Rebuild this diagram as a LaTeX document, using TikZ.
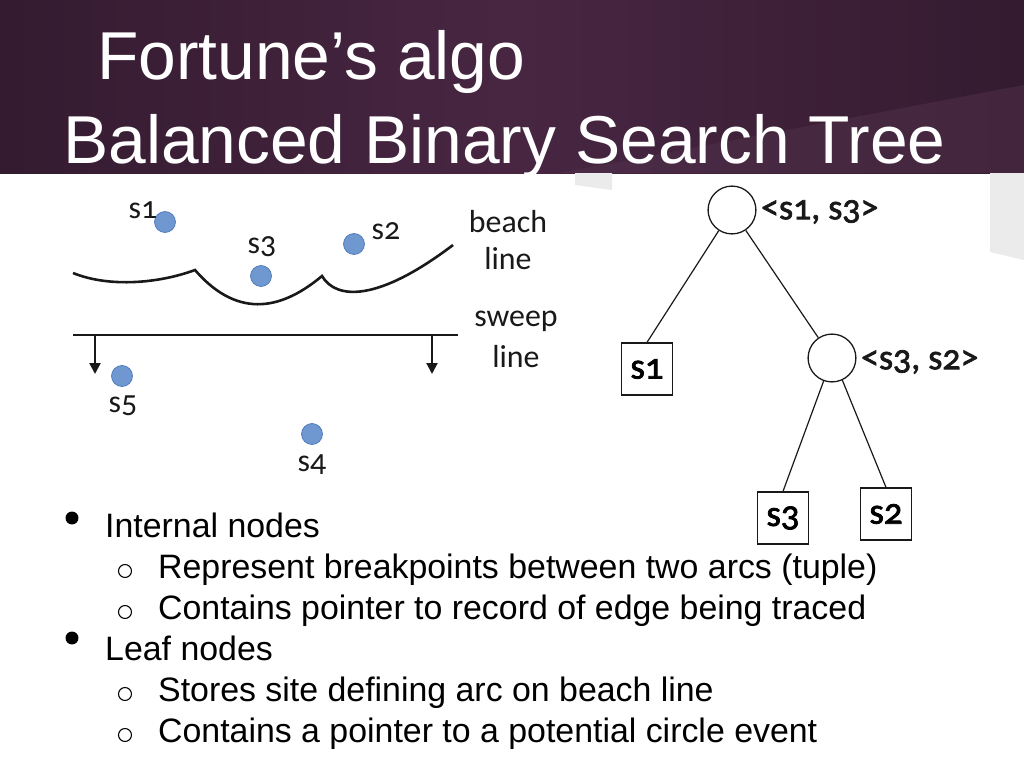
\documentclass[tikz,border=0pt]{standalone}
\usepackage{fontspec}
\setmainfont{Liberation Sans}
\newfontfamily\diafont{Carlito}[Numbers=OldStyle]
\newfontfamily\diabold{Carlito}[Numbers=OldStyle,FakeBold=2]
\usetikzlibrary{arrows.meta}
\definecolor{hdrdark}{RGB}{52,27,48}
\definecolor{hdrmid}{RGB}{72,38,66}
\definecolor{hdrlight}{RGB}{80,48,74}
\definecolor{sitefill}{RGB}{111,152,208}
\definecolor{siteedge}{RGB}{80,125,190}
\definecolor{wedge}{RGB}{235,235,235}
\definecolor{ink}{RGB}{25,25,25}
\tikzset{
  site/.style={circle,fill=sitefill,draw=siteedge,line width=0.8,minimum size=21,inner sep=0},
  sitelbl/.style={font=\diafont\fontsize{32}{32}\selectfont,text=ink,inner sep=0},
  inner/.style={circle,draw=ink,line width=1.3,minimum size=48,inner sep=0},
  leaf/.style={rectangle,draw=ink,line width=1.5,minimum width=51,minimum height=52,inner sep=0,font=\diabold\fontsize{37}{37}\selectfont},
  treelbl/.style={font=\diabold\fontsize{36}{36}\selectfont,text=ink,inner sep=0,anchor=west},
  edge/.style={draw=ink,line width=1.2},
  title/.style={font=\fontsize{68}{68}\selectfont,text=white,inner sep=0,anchor=base west},
  bul/.style={font=\fontsize{34}{34}\selectfont,text=black,inner sep=0,anchor=base west},
  dot/.style={circle,fill=black,minimum size=13,inner sep=0},
  subdot/.style={circle,draw=black,line width=1.1,minimum size=13,inner sep=0}
}
\begin{document}
\begin{tikzpicture}[x=1bp,y=-1bp]
\useasboundingbox (0,0) rectangle (1024,768);
\fill[white] (0,0) rectangle (1024,768);
% header
\shade[left color=hdrdark,right color=hdrdark,middle color=hdrmid] (0,0) rectangle (1024,173);
\fill[hdrlight,opacity=0.55] (560,173) -- (1024,85) -- (1024,173) -- cycle;
% gray wedges
\fill[wedge] (575,173) -- (612,173) -- (612,190) -- (575,185) -- cycle;
\fill[wedge] (990,173) -- (1024,173) -- (1024,260) -- (990,252) -- cycle;
% title
\node[title] (t1) at (97,80) {Fortune’s algo};
\node[title] (t2) at (63,163) {Balanced Binary Search Tree};
% beach line diagram
\node[site] (s1) at (165,222) {};
\node[site] (s3) at (261,276) {};
\node[site] (s2) at (354,244) {};
\node[site] (s5) at (122,376) {};
\node[site] (s4) at (312,434) {};
\node[sitelbl] (l1) at (143,210) {s1};
\node[sitelbl] (l3) at (262,247) {s3};
\node[sitelbl] (l2) at (386,231) {s2};
\node[sitelbl] (l5) at (123,406) {s5};
\node[sitelbl] (l4) at (312,465) {s4};
\node[sitelbl] (bl1) at (508,222) {beach};
\node[sitelbl] (bl2) at (508,259) {line};
\node[sitelbl] (sl1) at (516,321) {sweep};
\node[sitelbl] (sl2) at (516,357) {line};
\coordinate (b0) at (73,273);
\coordinate (b1) at (195,270);
\coordinate (b2) at (322,276);
\coordinate (b3) at (453,245);
\draw[ink,line width=2.6,line join=miter]
  (b0) .. controls (110,288) and (160,283) .. (b1)
       .. controls (240,322) and (285,307) .. (b2)
       .. controls (336,300) and (378,302) .. (b3);
\coordinate (sw0) at (73,335);
\coordinate (sw1) at (458,335);
\draw[ink,line width=3] (sw0) -- (sw1);
\coordinate (a1s) at (95,335);
\coordinate (a1e) at (95,374);
\coordinate (a2s) at (432,335);
\coordinate (a2e) at (432,374);
\draw[ink,line width=2.2,-{Triangle[length=11,width=11]}] (a1s) -- (a1e);
\draw[ink,line width=2.2,-{Triangle[length=11,width=11]}] (a2s) -- (a2e);
% tree
\node[inner] (r) at (732,210) {};
\node[inner] (q) at (832,358) {};
\node[leaf] (ls1) at (647,369) {s1};
\node[leaf] (ls3) at (783,518) {s3};
\node[leaf] (ls2) at (886,514) {s2};
\node[treelbl] (rl) at (761,212) {<s1, s3>};
\node[treelbl] (ql) at (861,362) {<s3, s2>};
\draw[edge] (r) -- (ls1.north);
\draw[edge] (r) -- (q);
\draw[edge] (q.250) -- (ls3.north);
\draw[edge] (q.295) -- (ls2.north);
% bullets
\node[dot] (d1) at (72,518) {};
\node[dot] (d2) at (72,638) {};
\node[subdot] (o1) at (125,571) {};
\node[subdot] (o2) at (125,612) {};
\node[subdot] (o3) at (125,694) {};
\node[subdot] (o4) at (125,735) {};
\node[bul] (x1) at (105,537) {Internal nodes};
\node[bul] (x2) at (158,578) {Represent breakpoints between two arcs (tuple)};
\node[bul] (x3) at (158,619) {Contains pointer to record of edge being traced};
\node[bul] (x4) at (105,660) {Leaf nodes};
\node[bul] (x5) at (158,701) {Stores site defining arc on beach line};
\node[bul] (x6) at (158,742) {Contains a pointer to a potential circle event};
\end{tikzpicture}
\end{document}
